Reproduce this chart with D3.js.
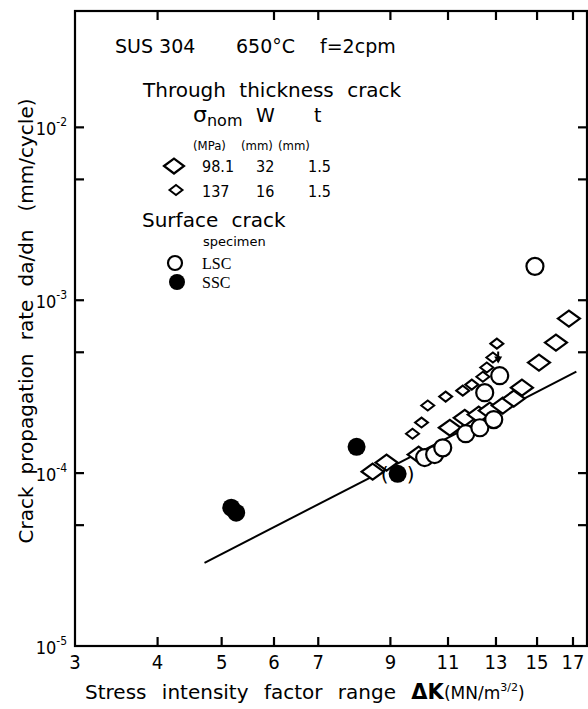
<!DOCTYPE html>
<html>
<head>
<meta charset="utf-8">
<script src="https://cdn.jsdelivr.net/npm/d3@7"></script>
<style>
  body { margin: 0; background: #fff; }
  text { font-family: "DejaVu Sans", sans-serif; fill: #000; }
  .num { font-family: "DejaVu Sans Condensed", "DejaVu Sans", sans-serif; }
  .serif { font-family: "Liberation Serif", serif; }
</style>
</head>
<body>
<svg id="chart" width="588" height="709"></svg>
<script>
// tick values
const xTicks = [3, 4, 5, 6, 7, 9, 11, 13, 15, 17];
const topTicks = [4, 6, 7, 9, 11, 13, 15, 17];
const yMajor = [1e-5, 1e-4, 1e-3, 1e-2];
const yMinor = [5e-5, 5e-4, 5e-3];
const yExp = [-5, -4, -3, -2];

// through thickness crack, sigma 98.1 MPa (large diamonds)
const bigDiaK = [8.46, 8.88, 9.93, 11.07, 11.66, 12.24, 12.72, 13.31, 13.83, 14.23, 15.10, 16.02, 16.76];
const bigDiaR = [1.02e-4, 1.15e-4, 1.28e-4, 1.83e-4, 2.09e-4, 2.18e-4, 2.30e-4, 2.46e-4, 2.70e-4, 3.12e-4, 4.36e-4, 5.69e-4, 7.83e-4];

// through thickness crack, sigma 137 MPa (small diamonds)
const smallDiaK = [9.72, 10.03, 10.25, 10.91, 11.58, 11.95, 12.42, 12.59, 12.86, 13.04];
const smallDiaR = [1.69e-4, 1.96e-4, 2.46e-4, 2.77e-4, 3.00e-4, 3.25e-4, 3.61e-4, 4.08e-4, 4.66e-4, 5.61e-4];

// surface crack LSC (open circles)
const lscK = [10.14, 10.50, 10.80, 11.70, 12.29, 12.90, 12.50, 13.17, 14.89];
const lscR = [1.23e-4, 1.28e-4, 1.40e-4, 1.69e-4, 1.83e-4, 2.04e-4, 2.92e-4, 3.66e-4, 1.57e-3];

// surface crack SSC (filled circles)
const sscK = [5.17, 5.26, 8.0, 9.23];
const sscR = [6.31e-5, 5.90e-5, 1.42e-4, 9.9e-5];
const bracketed = [3]; // index of SSC point shown in ( )

// fitted line
const lineK = [4.71, 17.2];
const lineR = [3.03e-5, 3.86e-4];

// arrow under small diamond
const arrowK = 13.1;
const arrowR = [5.05e-4, 4.36e-4];

const svg = d3.select("#chart");
const pLeft = 75, pRight = 587, pTop = 11, pBottom = 646;

const x = d3.scaleLog().domain([3, 17.85]).range([pLeft, pRight]);
const y = d3.scaleLog().domain([1e-5, 0.0471]).range([pBottom, pTop]);

svg.append("rect").attr("width", 588).attr("height", 709).attr("fill", "#fff");

// frame
svg.append("rect")
  .attr("x", pLeft).attr("y", pTop)
  .attr("width", pRight - pLeft).attr("height", pBottom - pTop)
  .attr("fill", "none").attr("stroke", "#000").attr("stroke-width", 2.2);

// bottom ticks
svg.append("g").selectAll("line").data(xTicks.slice(1)).enter().append("line")
  .attr("x1", d => x(d)).attr("x2", d => x(d))
  .attr("y1", pBottom).attr("y2", pBottom - 9)
  .attr("stroke", "#000").attr("stroke-width", 2.2);

svg.append("g").selectAll("text").data(xTicks).enter().append("text")
  .attr("class", "num")
  .attr("x", d => x(d)).attr("y", pBottom + 23)
  .attr("text-anchor", "middle").attr("font-size", 20)
  .text(d => d);

// top ticks
svg.append("g").selectAll("line").data(topTicks).enter().append("line")
  .attr("x1", d => x(d)).attr("x2", d => x(d))
  .attr("y1", pTop).attr("y2", pTop + 9)
  .attr("stroke", "#000").attr("stroke-width", 2.2);

// left and right ticks
const yTicks = yMajor.slice(1).concat(yMinor);
svg.append("g").selectAll("line").data(yTicks).enter().append("line")
  .attr("x1", pLeft).attr("x2", pLeft + 9)
  .attr("y1", d => y(d)).attr("y2", d => y(d))
  .attr("stroke", "#000").attr("stroke-width", 2.2);
svg.append("g").selectAll("line").data(yTicks).enter().append("line")
  .attr("x1", pRight).attr("x2", pRight - 9)
  .attr("y1", d => y(d)).attr("y2", d => y(d))
  .attr("stroke", "#000").attr("stroke-width", 2.2);

const yl = svg.append("g").selectAll("text").data(yMajor).enter().append("text")
  .attr("class", "num")
  .attr("x", pLeft - 8).attr("y", d => y(d) + 8)
  .attr("text-anchor", "end").attr("font-size", 18);
yl.append("tspan").text("10");
yl.append("tspan").attr("font-size", 12).attr("dy", -9).text((d, i) => yExp[i]);

// y axis title, one word at a time
const yWords = ["Crack", "propagation", "rate", "da/dn", "(mm/cycle)"];
const yWordMid = [515, 414, 320, 258, 155];
svg.append("g").selectAll("text").data(yWords).enter().append("text")
  .attr("transform", (d, i) => "translate(33," + yWordMid[i] + ") rotate(-90)")
  .attr("text-anchor", "middle").attr("font-size", 20)
  .text(d => d);

// x axis title
const xt = svg.append("text")
  .attr("x", 85).attr("y", 699).attr("font-size", 20).attr("word-spacing", 9);
xt.append("tspan").text("Stress intensity factor range ");
xt.append("tspan").attr("font-weight", "bold").attr("font-size", 21).text("ΔK");
xt.append("tspan").attr("font-size", 17).attr("word-spacing", 0).text("(MN/m");
xt.append("tspan").attr("font-size", 11).attr("dy", -8).text("3/2");
xt.append("tspan").attr("font-size", 17).attr("dy", 8).text(")");

// marker helper
function diamond(w, h) {
  return "M" + (-w) + ",0L0," + (-h) + "L" + w + ",0L0," + h + "Z";
}

// fitted line
svg.append("line")
  .attr("x1", x(lineK[0])).attr("y1", y(lineR[0]))
  .attr("x2", x(lineK[1])).attr("y2", y(lineR[1]))
  .attr("stroke", "#000").attr("stroke-width", 2);

// large diamonds
svg.append("g").selectAll("path").data(bigDiaK).enter().append("path")
  .attr("d", diamond(11, 8))
  .attr("transform", (d, i) => "translate(" + x(d) + "," + y(bigDiaR[i]) + ")")
  .attr("fill", "#fff").attr("stroke", "#000").attr("stroke-width", 2.2);

// open circles
svg.append("g").selectAll("circle").data(lscK).enter().append("circle")
  .attr("cx", d => x(d)).attr("cy", (d, i) => y(lscR[i])).attr("r", 8.5)
  .attr("fill", "#fff").attr("stroke", "#000").attr("stroke-width", 2.2);

// small diamonds
svg.append("g").selectAll("path").data(smallDiaK).enter().append("path")
  .attr("d", diamond(6.5, 5))
  .attr("transform", (d, i) => "translate(" + x(d) + "," + y(smallDiaR[i]) + ")")
  .attr("fill", "#fff").attr("stroke", "#000").attr("stroke-width", 2);

// arrow
svg.append("line")
  .attr("x1", x(arrowK)).attr("x2", x(arrowK))
  .attr("y1", y(arrowR[0])).attr("y2", y(arrowR[1]) - 4)
  .attr("stroke", "#000").attr("stroke-width", 2);
svg.append("path")
  .attr("d", "M-4,-6L4,-6L0,1Z")
  .attr("transform", "translate(" + x(arrowK) + "," + y(arrowR[1]) + ")")
  .attr("fill", "#000");

// filled circles
svg.append("g").selectAll("circle").data(sscK).enter().append("circle")
  .attr("cx", d => x(d)).attr("cy", (d, i) => y(sscR[i])).attr("r", 9)
  .attr("fill", "#000");

bracketed.forEach(i => {
  svg.append("text").attr("x", x(sscK[i]) - 13).attr("y", y(sscR[i]) + 7)
    .attr("text-anchor", "middle").attr("font-size", 20).text("(");
  svg.append("text").attr("x", x(sscK[i]) + 13).attr("y", y(sscR[i]) + 7)
    .attr("text-anchor", "middle").attr("font-size", 20).text(")");
});

// legend / annotations
const lg = svg.append("g");
lg.append("text").attr("x", 115).attr("y", 53).attr("font-size", 19).text("SUS 304");
lg.append("text").attr("x", 236).attr("y", 53).attr("font-size", 19).text("650°C");
lg.append("text").attr("x", 320).attr("y", 53).attr("font-size", 19).text("f=2cpm");
lg.append("text").attr("x", 143).attr("y", 97).attr("font-size", 20).attr("word-spacing", 7).text("Through thickness crack");

const sg = lg.append("text").attr("x", 193).attr("y", 122).attr("font-size", 22);
sg.append("tspan").text("σ");
sg.append("tspan").attr("font-size", 16).attr("dy", 4).text("nom");
lg.append("text").attr("x", 256).attr("y", 122).attr("font-size", 19).text("W");
lg.append("text").attr("x", 314).attr("y", 122).attr("font-size", 19).text("t");
lg.append("text").attr("x", 193).attr("y", 150).attr("font-size", 13).attr("class", "num").text("(MPa)");
lg.append("text").attr("x", 241).attr("y", 150).attr("font-size", 13).attr("class", "num").text("(mm)");
lg.append("text").attr("x", 278).attr("y", 150).attr("font-size", 13).attr("class", "num").text("(mm)");

lg.append("path").attr("d", diamond(10, 7.5)).attr("transform", "translate(174,166)")
  .attr("fill", "#fff").attr("stroke", "#000").attr("stroke-width", 2.2);
lg.append("path").attr("d", diamond(6.5, 5)).attr("transform", "translate(176,190)")
  .attr("fill", "#fff").attr("stroke", "#000").attr("stroke-width", 2);
const rows = [["98.1", "32", "1.5", 172], ["137", "16", "1.5", 197]];
rows.forEach(r => {
  lg.append("text").attr("class", "num").attr("x", 202).attr("y", r[3]).attr("font-size", 16).text(r[0]);
  lg.append("text").attr("class", "num").attr("x", 256).attr("y", r[3]).attr("font-size", 16).text(r[1]);
  lg.append("text").attr("class", "num").attr("x", 308).attr("y", r[3]).attr("font-size", 16).text(r[2]);
});

lg.append("text").attr("x", 142).attr("y", 227).attr("font-size", 20).attr("word-spacing", 7).text("Surface crack");
lg.append("text").attr("x", 203).attr("y", 246).attr("font-size", 13).text("specimen");
lg.append("circle").attr("cx", 175).attr("cy", 263).attr("r", 7)
  .attr("fill", "#fff").attr("stroke", "#000").attr("stroke-width", 2.2);
lg.append("circle").attr("cx", 177).attr("cy", 282).attr("r", 8).attr("fill", "#000");
lg.append("text").attr("class", "serif").attr("x", 202).attr("y", 269).attr("font-size", 16).text("LSC");
lg.append("text").attr("class", "serif").attr("x", 202).attr("y", 288).attr("font-size", 16).text("SSC");
</script>
</body>
</html>
